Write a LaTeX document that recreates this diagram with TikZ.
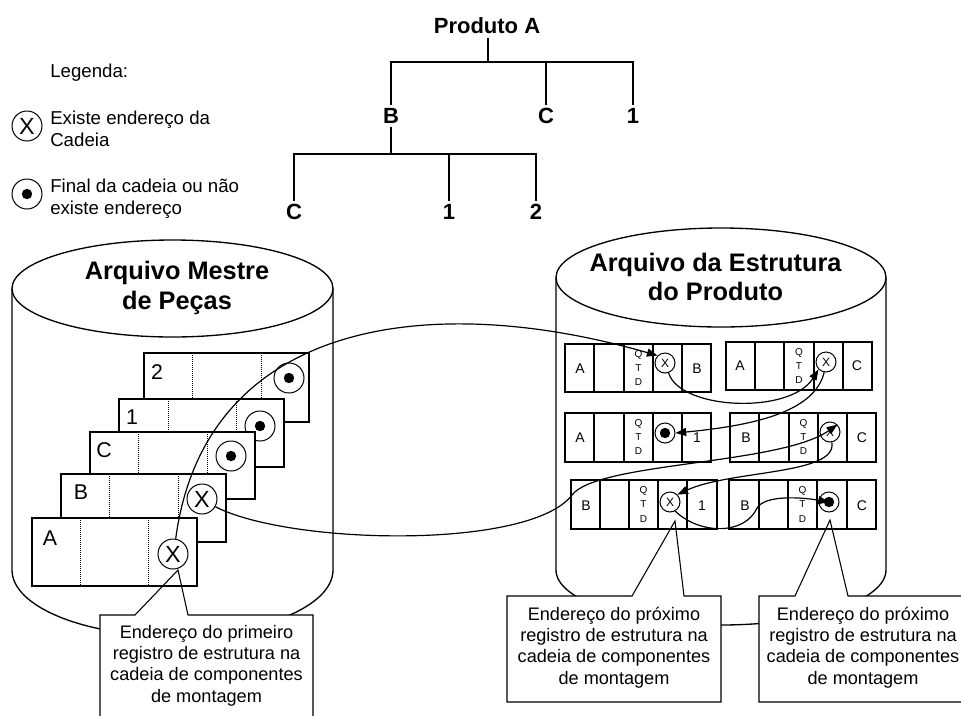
\documentclass[tikz,border=0pt]{standalone}
\usepackage{fontspec}
\setmainfont{Liberation Sans}
\usetikzlibrary{arrows.meta}

\tikzset{
  cyl/.style={draw=black, fill=white, line width=1pt},
  card/.style={draw=black, fill=white, line width=0.8pt},
  cardsep/.style={densely dotted, line width=0.5pt},
  rec/.style={draw=black, fill=white, line width=1pt},
  callout/.style={draw=black, line width=0.8pt},
  treeline/.style={line width=1pt},
  treelabel/.style={font=\bfseries\fontsize{16.5}{19}\selectfont, inner sep=2.5pt},
  dbtitle/.style={align=center, font=\bfseries\fontsize{19}{22}\selectfont, inner sep=0pt},
  plain/.style={align=left, anchor=west, inner sep=0pt, font=\fontsize{14}{16.5}\selectfont},
  note/.style={align=center, inner sep=0pt, font=\fontsize{13.6}{16}\selectfont},
  cardlabel/.style={inner sep=0pt, font=\fontsize{16}{16}\selectfont},
  reclabel/.style={inner sep=0pt, font=\fontsize{10.5}{10.5}\selectfont},
  qtd/.style={align=center, inner sep=0pt, font=\fontsize{7.5}{10.5}\selectfont},
  bigptr/.style={circle, draw, line width=0.75pt, minimum size=22.5pt, inner sep=0pt, font=\fontsize{17.5}{17.5}\selectfont},
  smallptr/.style={circle, draw, line width=0.75pt, minimum size=15pt, inner sep=0pt, font=\fontsize{9}{9}\selectfont},
  enddot/.style={path picture={\fill (path picture bounding box.center) circle[radius=3.9pt];}},
  chain/.style={line width=0.9pt, -{Triangle[length=8pt,width=6pt]}}
}

\begin{document}
\begin{tikzpicture}[x=0.75pt, y=-0.75pt]
\useasboundingbox (0,0) rectangle (961,715);

%legend
\node[plain] (leg) at (50,73) {Legenda:};
\node[bigptr] (legx) at (27,126) {X};
\node[plain] (legxt) at (50,129) {Existe endereço da\\Cadeia};
\node[bigptr, enddot] (legd) at (27,194) {};
\node[plain] (legdt) at (50,199) {Final da cadeia ou não\\existe endereço};

%product tree
\node[treelabel] (prod) at (487,26) {Produto A};
\node[treelabel] (nB) at (391,116) {B};
\node[treelabel] (nC) at (546,116) {C};
\node[treelabel] (n1) at (633,116) {1};
\node[treelabel] (nBC) at (294,212) {C};
\node[treelabel] (nB1) at (449,212) {1};
\node[treelabel] (nB2) at (536,212) {2};
\coordinate (barA) at (488,62);
\coordinate (barB) at (391,154);
\draw[treeline] (prod.south -| barA) -- (barA);
\draw[treeline] (nB.north) |- (barA) -| (n1.north);
\draw[treeline] (nC.north) -- (nC.north |- barA);
\draw[treeline] (nB.south) -- (barB);
\draw[treeline] (nBC.north) |- (barB) -| (nB2.north);
\draw[treeline] (nB1.north) -- (nB1.north |- barB);

%cylinders
\path[cyl] (12,288.5) -- (12,570) .. controls (12,606.5) and (83.9,636) .. (172.5,636) .. controls (261.1,636) and (333,606.5) .. (333,570) -- (333,288.5);
\draw[cyl] (172.5,288.5) ellipse[x radius=160.5, y radius=48.5];
\node[dbtitle] (tM) at (177,288) {Arquivo Mestre\\de Peças};

\path[cyl] (556,277.5) -- (556,570) .. controls (556,600.4) and (629.9,625) .. (721,625) .. controls (812.1,625) and (886,600.4) .. (886,570) -- (886,277.5);
\draw[cyl] (721,277.5) ellipse[x radius=165, y radius=49.5];
\node[dbtitle] (tE) at (715.5,277) {Arquivo da Estrutura\\do Produto};

%callout fills, outlines come last
\fill[white] (100,615) -- (135,615) -- (178,570) -- (188,615) -- (313,615) -- (313,720) -- (100,720) -- cycle;
\fill[white] (507,596) -- (632,596) -- (675,521) -- (684,596) -- (721,596) -- (721,702) -- (507,702) -- cycle;
\fill[white] (759,596) -- (795,596) -- (830,520) -- (848,596) -- (975,596) -- (975,702) -- (759,702) -- cycle;

%master records, back to front
\filldraw[card] (144,353) rectangle (309,422);
\draw[cardsep] (192,353) -- (192,422) (261,353) -- (261,422);
\node[cardlabel] (l2) at (157,372) {2};
\node[bigptr, enddot] (m2) at (289,378) {};

\filldraw[card] (119,399) rectangle (284,467);
\draw[cardsep] (168,399) -- (168,467) (236,399) -- (236,467);
\node[cardlabel] (l1) at (132,417) {1};
\node[bigptr, enddot] (m1) at (260,426) {};

\filldraw[card] (90,432) rectangle (255,499);
\draw[cardsep] (138,432) -- (138,499) (207,432) -- (207,499);
\node[cardlabel] (lC) at (104,450) {C};
\node[bigptr, enddot] (mC) at (231,456) {};

\filldraw[card] (61,474) rectangle (226,542);
\draw[cardsep] (109,474) -- (109,542) (178,474) -- (178,542);
\node[cardlabel] (lB) at (81,492) {B};
\node[bigptr] (mB) at (202,499) {X};

\filldraw[card] (32,518) rectangle (197,586);
\draw[cardsep] (80,518) -- (80,586) (148,518) -- (148,586);
\node[cardlabel] (lA) at (50,538) {A};
\node[bigptr] (mA) at (173,554) {X};

%structure records, row 1
\draw[rec] (565,344) rectangle (711,392) (594,344) -- (594,392) (624,344) -- (624,392) (653,344) -- (653,392) (682,344) -- (682,392);
\node[reclabel] (a1a) at (580,369) {A};
\node[qtd] (q1a) at (638.5,368) {Q\\T\\D};
\node[smallptr] (p1a) at (665,363) {X};
\node[reclabel] (b1a) at (697,369) {B};

\draw[rec] (726,342) rectangle (872,390) (755,342) -- (755,390) (784,342) -- (784,390) (814,342) -- (814,390) (843,342) -- (843,390);
\node[reclabel] (a1b) at (740,366) {A};
\node[qtd] (q1b) at (799,366) {Q\\T\\D};
\node[smallptr] (p1b) at (826,362) {X};
\node[reclabel] (b1b) at (857,366) {C};

%row 2
\draw[rec] (565,413) rectangle (711,462) (594,413) -- (594,462) (624,413) -- (624,462) (653,413) -- (653,462) (682,413) -- (682,462);
\node[reclabel] (a2a) at (580,438) {A};
\node[qtd] (q2a) at (638.5,437.5) {Q\\T\\D};
\node[smallptr, enddot] (p2a) at (665,433) {};
\node[reclabel] (b2a) at (697,438) {1};

\draw[rec] (730,413) rectangle (876,462) (759,413) -- (759,462) (789,413) -- (789,462) (818,413) -- (818,462) (847,413) -- (847,462);
\node[reclabel] (a2b) at (746,438) {B};
\node[qtd] (q2b) at (803.5,437.5) {Q\\T\\D};
\node[smallptr] (p2b) at (830,432) {X};
\node[reclabel] (b2b) at (862,438) {C};

%row 3
\draw[rec] (571,480) rectangle (717,529) (600,480) -- (600,529) (629,480) -- (629,529) (658,480) -- (658,529) (687,480) -- (687,529);
\node[reclabel] (a3a) at (586,506) {B};
\node[qtd] (q3a) at (643.5,504.5) {Q\\T\\D};
\node[smallptr] (p3a) at (670,502) {X};
\node[reclabel] (b3a) at (702,506) {1};

\draw[rec] (729,480) rectangle (876,529) (759,480) -- (759,529) (788,480) -- (788,529) (817,480) -- (817,529) (847,480) -- (847,529);
\node[reclabel] (a3b) at (745,506) {B};
\node[qtd] (q3b) at (802.5,504.5) {Q\\T\\D};
\node[smallptr, enddot] (p3b) at (829,502) {};
\node[reclabel] (b3b) at (862,506) {C};

%chains
\draw[chain] (mA.80) .. controls (205,320) and (430,290) .. (p1a.north west);
\draw[chain] (mB.-30) .. controls (290,545) and (530,550) .. (572,495) .. controls (597,462) and (780,465) .. (p2b.45);
\draw[chain] (p2b.-80) .. controls (838,475) and (730,470) .. (p3a.north east);
\draw[chain] (p3a.-60) .. controls (700,535) and (745,535) .. (757,508) .. controls (765,495) and (800,497) .. (p3b.center);
\draw[chain] (p1a.-70) .. controls (680,410) and (790,415) .. (p1b.south west);
\draw[chain] (p1b.-100) .. controls (815,410) and (760,425) .. (p2a.east);

%callouts
\draw[callout] (100,615) -- (135,615) -- (178,570) -- (188,615) -- (313,615) -- (313,720) -- (100,720) -- cycle;
\draw[callout] (507,596) -- (632,596) -- (675,521) -- (684,596) -- (721,596) -- (721,702) -- (507,702) -- cycle;
\draw[callout] (759,596) -- (795,596) -- (830,520) -- (848,596) -- (975,596) -- (975,702) -- (759,702) -- cycle;
\node[note] (t1) at (206.5,665.5) {Endereço do primeiro\\registro de estrutura na\\cadeia de componentes\\de montagem};
\node[note] (t2) at (614,647.5) {Endereço do próximo\\registro de estrutura na\\cadeia de componentes\\de montagem};
\node[note] (t3) at (863,647.5) {Endereço do próximo\\registro de estrutura na\\cadeia de componentes\\de montagem};
\end{tikzpicture}
\end{document}
